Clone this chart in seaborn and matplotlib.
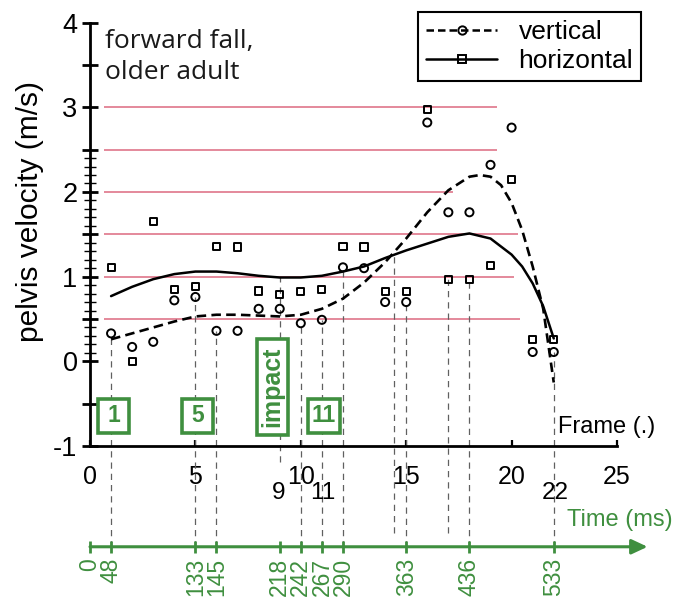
import matplotlib
matplotlib.use("Agg")
import matplotlib.pyplot as plt
from matplotlib.lines import Line2D
from matplotlib.patches import Rectangle
import seaborn as sns
import pandas as pd

# measured pelvis velocity per video frame (m/s)
frames = list(range(1, 23))
vertical_pts = [0.33, 0.17, 0.23, 0.72, 0.76, 0.36, 0.36, 0.62, 0.62, 0.45, 0.49,
                1.11, 1.10, 0.70, 0.70, 2.82, 1.76, 1.76, 2.32, 2.76, 0.11, 0.11]
horizontal_pts = [1.11, 0.00, 1.65, 0.85, 0.88, 1.36, 1.35, 0.83, 0.79, 0.82, 0.85,
                  1.36, 1.35, 0.82, 0.82, 2.97, 0.97, 0.97, 1.13, 2.15, 0.26, 0.26]

# fitted curves
vert_fit_frames = [1, 2, 3, 4, 5, 6, 7, 8, 9, 10, 11, 12, 13, 14, 15, 16, 17, 18,
                   18.5, 19, 19.5, 20, 20.5, 21, 21.5, 22]
vert_fit = [0.26, 0.33, 0.40, 0.47, 0.53, 0.55, 0.55, 0.54, 0.53, 0.55, 0.62, 0.74,
            0.93, 1.17, 1.45, 1.76, 2.02, 2.18, 2.20, 2.18, 2.08, 1.87, 1.55, 1.12,
            0.62, -0.25]
horiz_fit_frames = [1, 2, 3, 4, 5, 6, 7, 8, 9, 10, 11, 12, 13, 14, 15, 16, 17, 18,
                    19, 20, 20.5, 21, 21.5, 22]
horiz_fit = [0.77, 0.88, 0.97, 1.03, 1.06, 1.06, 1.04, 1.01, 0.99, 0.99, 1.01, 1.06,
             1.12, 1.22, 1.31, 1.39, 1.47, 1.51, 1.45, 1.26, 1.12, 0.92, 0.65, 0.27]

# pink reference levels and where each one stops (frame)
ref_levels = [0.5, 1.0, 1.5, 2.0, 2.5, 3.0]
ref_ends = [20.4, 20.1, 20.3, 17.2, 19.3, 19.3]

# dashed drop lines (frame, value where the line starts, value where it stops)
drop_frames = [1, 5, 6, 9, 10, 11, 12, 14.4, 15, 17, 18, 22]
drop_tops = [0.26, 0.76, 0.36, 1.0, 0.45, 0.49, 1.05, 1.27, 0.70, 0.97, 0.97, 0.11]
drop_bottoms = [-2.19, -2.19, -2.19, -1.19, -2.19, -2.19, -2.19, -2.03, -2.19, -2.03,
                -2.19, -2.19]

# time axis: frame position and time label (ms)
time_frames = [0, 1, 5, 6, 9, 10, 11, 12, 15, 18, 22]
time_ms = ["0", "48", "133", "145", "218", "242", "267", "290", "363", "436", "533"]

# extra frame numbers under the x axis
frame_marks = ["9", "11", "22"]
frame_mark_x = [8.93, 11.05, 22.07]

# green stage boxes
stage_labels = ["1", "5", "impact", "11"]
stage_x = [0.38, 4.37, 7.93, 10.35]

GREEN = "#3f8f3f"
PINK = "#dc6a80"
TIME_Y = -2.19

sns.set_theme(style="ticks")
plt.rcParams["font.family"] = ["Liberation Sans", "DejaVu Sans"]
plt.rcParams["text.color"] = "black"

fig = plt.figure(figsize=(6.78, 6.01), dpi=100)
ax = fig.add_axes([90 / 678, 155 / 601, 527 / 678, 423.4 / 601])

# reference lines
ax.hlines(ref_levels, 0.65, ref_ends, color=PINK, lw=1.1, zorder=1)

# drop lines down to the time axis
ax.vlines(drop_frames, drop_bottoms, drop_tops, colors="#606060", lw=0.9,
          linestyles=(0, (5, 4)), clip_on=False, zorder=1)

# fitted curves
sns.lineplot(x=vert_fit_frames, y=vert_fit, ax=ax, color="black", lw=1.9,
             linestyle=(0, (3.6, 2.0)), estimator=None, sort=False, zorder=4)
sns.lineplot(x=horiz_fit_frames, y=horiz_fit, ax=ax, color="black", lw=1.8,
             estimator=None, sort=False, zorder=4)

# measured points
pts = pd.DataFrame({"frame": frames, "vertical": vertical_pts, "horizontal": horizontal_pts})
sns.scatterplot(data=pts, x="frame", y="vertical", ax=ax, marker="o", s=34,
                facecolors="none", edgecolor="black", linewidth=1.4, zorder=5)
sns.scatterplot(data=pts, x="frame", y="horizontal", ax=ax, marker="s", s=26,
                facecolors="none", edgecolor="black", linewidth=1.4, zorder=5)

# stage boxes
for label, x0 in zip(stage_labels, stage_x):
    if label == "impact":
        y0, h, rot, fs = -0.87, 1.13, 90, 18
    else:
        y0, h, rot, fs = -0.85, 0.41, 0, 16.5
    w = 1.5 if label == "11" else 1.47
    ax.add_patch(Rectangle((x0, y0), w, h, facecolor="white", edgecolor=GREEN,
                           lw=2.6, zorder=3))
    ax.text(x0 + w / 2, y0 + h / 2, label, color=GREEN, fontsize=fs,
            fontweight="bold", rotation=rot, ha="center", va="center", zorder=4)

# axes styling
ax.set_xlim(0, 25)
ax.set_ylim(-1, 4)
ax.set_xticks([0, 5, 10, 15, 20, 25])
ax.set_xticklabels(["0", "5", "10", "15", "20", "25"])
ytick_vals = [-1, -0.5, 0, 0.5, 1, 1.5, 2, 2.5, 3, 3.5, 4]
ax.set_yticks(ytick_vals)
ax.set_yticklabels(["-1", "", "0", "", "1", "", "2", "", "3", "", "4"])
ax.set_yticks([v / 10 for v in range(1, 25) if v % 5 != 0], minor=True)
ax.tick_params(axis="x", direction="in", length=4, width=1.6, pad=14,
               labelsize=18, colors="black")
ax.tick_params(axis="y", which="major", direction="inout", length=12, width=2,
               pad=3, labelsize=19.5, colors="black")
ax.tick_params(axis="y", which="minor", direction="inout", length=8, width=1,
               left=True, colors="black")
sns.despine(ax=ax)
for side in ["left", "bottom"]:
    ax.spines[side].set_linewidth(2)
    ax.spines[side].set_color("black")
ax.set_xlabel("")
ax.set_ylabel("pelvis velocity (m/s)", fontsize=21.5, color="black")
ax.yaxis.set_label_coords(-0.087, 0.553)

ax.text(22.2, -0.77, "Frame (.)", fontsize=17, ha="left", va="center")
ax.text(0.71, 3.92, "forward fall,\nolder adult", fontsize=19, family="Open Sans",
        color="#1a1a1a", ha="left", va="top", linespacing=1.3)

for lab, x in zip(frame_marks, frame_mark_x):
    ax.text(x, -1.56, lab, fontsize=17.5, ha="center", va="center", clip_on=False)

# time axis underneath
ax.annotate("", xy=(26.45, TIME_Y), xytext=(0, TIME_Y), annotation_clip=False,
            arrowprops=dict(arrowstyle="-|>,head_length=0.6,head_width=0.28",
                            color=GREEN, lw=2.2, shrinkA=0, shrinkB=0,
                            mutation_scale=16))
ax.vlines(time_frames, TIME_Y - 0.07, TIME_Y + 0.07, colors=GREEN, lw=2, clip_on=False)
for x, lab in zip(time_frames, time_ms):
    ax.text(x, -2.32, lab, color=GREEN, fontsize=16.5, rotation=90, ha="center",
            va="top", clip_on=False)
ax.text(25.15, -1.87, "Time (ms)", color=GREEN, fontsize=17, ha="center", va="center")

# legend
handles = [
    Line2D([], [], color="black", ls=(0, (3, 1.6)), lw=1.8, marker="o", ms=6,
           mfc="none", mew=1.4),
    Line2D([], [], color="black", ls="-", lw=1.8, marker="s", ms=5.5,
           mfc="none", mew=1.4),
]
leg = fig.legend(handles, ["vertical", "horizontal"], loc="upper right",
                 bbox_to_anchor=(641 / 678, 1 - 12 / 601), numpoints=1,
                 handlelength=2.7, fancybox=False, edgecolor="black", framealpha=1,
                 fontsize=19, borderpad=0.3, labelspacing=0.2, handletextpad=0.8,
                 borderaxespad=0)
leg.get_frame().set_linewidth(1.5)

fig.savefig("out.png", dpi=100)
